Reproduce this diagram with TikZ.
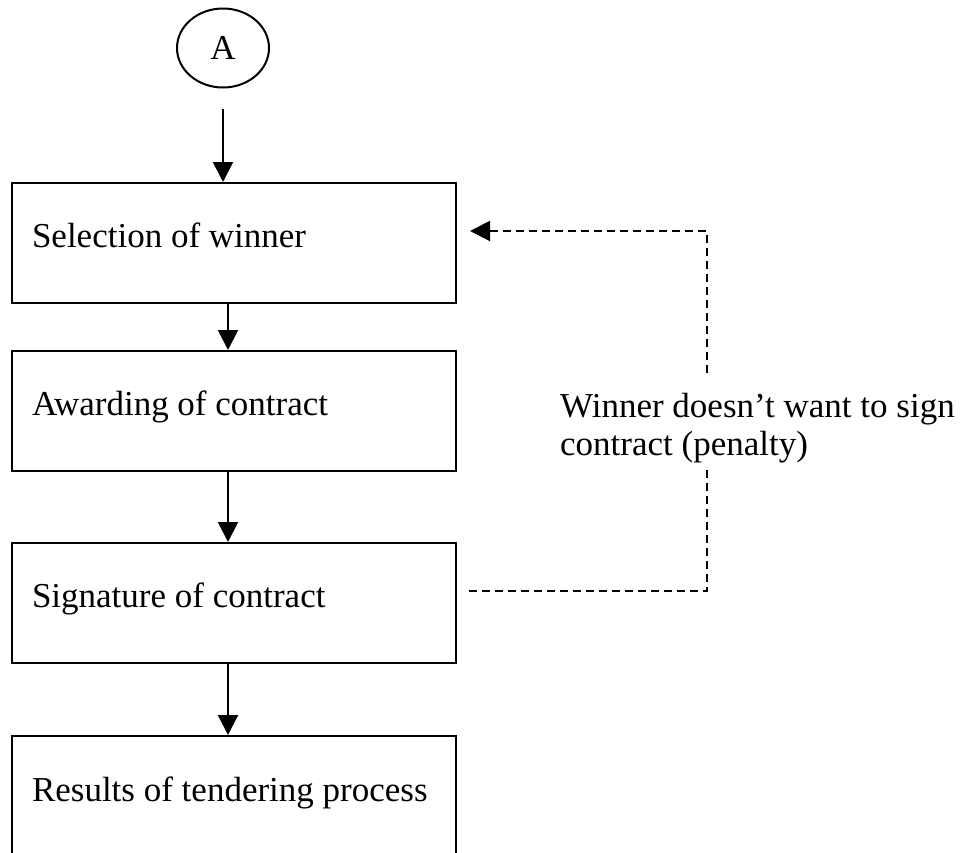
\documentclass[tikz,border=0pt]{standalone}
\usepackage{fontspec}
\setmainfont{Liberation Serif}
\usetikzlibrary{arrows.meta,shapes.geometric,calc}

% process box: text set flush left in a fixed-width line
\newcommand{\boxline}[1]{\makebox[404pt][l]{#1}}

\tikzset{
  stepbox/.style={draw, line width=2pt, rectangle, anchor=north west,
    minimum width=444pt, minimum height=120pt, inner xsep=20pt, inner ysep=0pt,
    text height=24pt, text depth=15pt},
  connector/.style={draw, ellipse, line width=2pt, minimum width=92pt,
    minimum height=79pt, inner sep=0pt},
  flow/.style={line width=2pt, -{Triangle[width=20pt,length=20pt]}},
  loopline/.style={line width=2pt, dash pattern=on 8pt off 5pt},
}

\begin{document}
\begin{tikzpicture}[x=1pt, y=-1pt, font=\fontsize{35}{38}\selectfont]
  \useasboundingbox (0,0) rectangle (969,852);
  \clip (0,0) rectangle (969,852);

  % connector and process boxes
  \node[connector] (A) at (223,48) {A};
  \node[stepbox] (sel)   at (11,182) {\boxline{Selection of winner}};
  \node[stepbox] (award) at (11,350) {\boxline{Awarding of contract}};
  \node[stepbox] (sig)   at (11,542) {\boxline{Signature of contract}};
  \node[stepbox, minimum height=121pt] (res) at (11,735) {\boxline{Results of tendering process}};

  % main flow
  \draw[flow, shorten <=20pt] (A.south) -- (A.south |- sel.north);
  \draw[flow] ([xshift=-6pt]sel.south) -- ([xshift=-6pt]award.north);
  \draw[flow] ([xshift=-6pt]award.south) -- ([xshift=-6pt]sig.north);
  \draw[flow] ([xshift=-6pt]sig.south) -- ([xshift=-6pt]res.north);

  % loop back when the winner refuses to sign
  \node[anchor=north west, align=left, inner sep=0pt] (why) at (560,393)
    {Winner doesn’t want to sign\\contract (penalty)};
  \coordinate (gapbot) at (707,470);
  \coordinate (gaptop) at (707,373);
  \draw[loopline] ($(sig.north east)+(12,49)$) -| (gapbot);
  \draw[loopline, -{Triangle[width=20pt,length=20pt]}]
    (gaptop) |- ($(sel.north east)+(13,49)$);
\end{tikzpicture}
\end{document}
